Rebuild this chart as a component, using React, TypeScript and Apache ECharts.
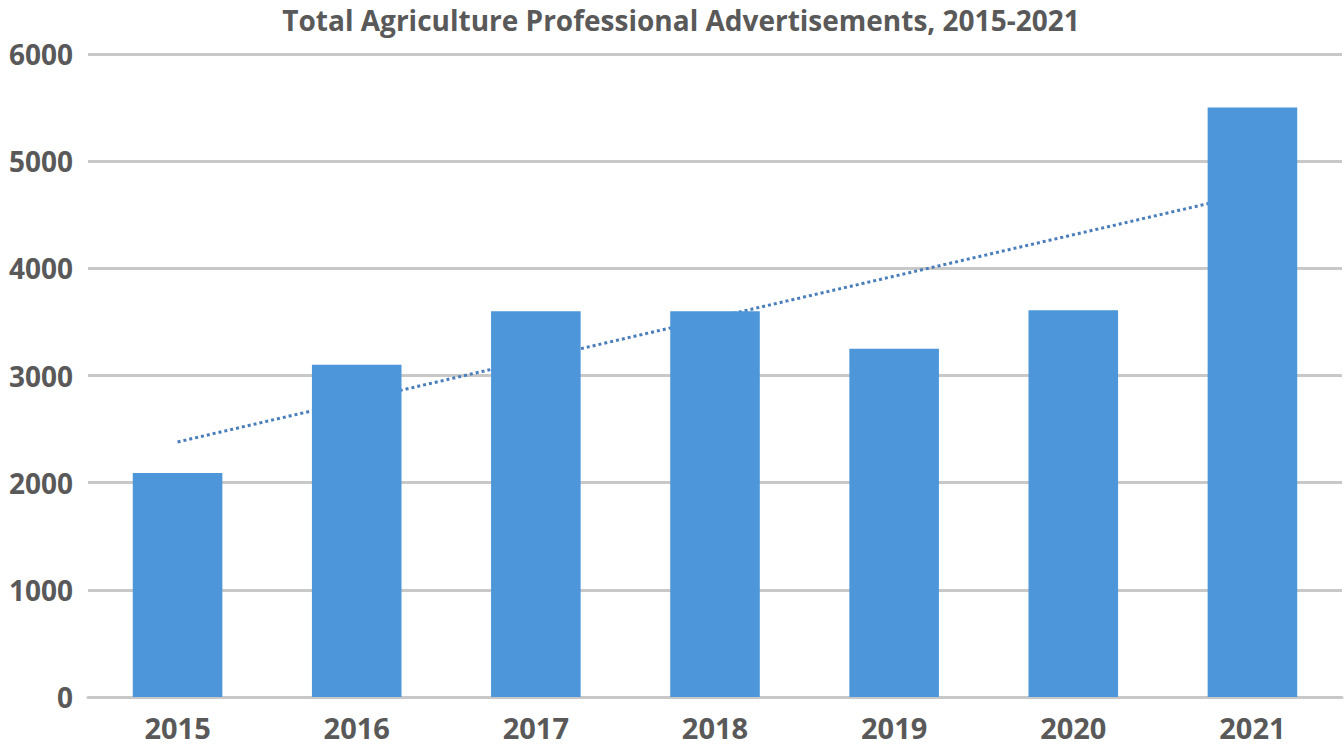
import React, { useEffect, useRef } from "react";
import * as echarts from "echarts";

const years = ["2015", "2016", "2017", "2018", "2019", "2020", "2021"];
const advertisements = [2090, 3100, 3600, 3600, 3250, 3610, 5500];
// linear trendline endpoints, drawn between first and last category
const trendline = [2380, null, null, null, null, null, 4700];
const yTicks = { min: 0, max: 6000, interval: 1000 };
const titleText = "Total Agriculture Professional Advertisements, 2015-2021";

export default function App() {
  const ref = useRef<HTMLDivElement>(null);
  useEffect(() => {
    const chart = echarts.init(ref.current!, null, { renderer: "svg" });
    const font = "'Open Sans', 'DejaVu Sans', sans-serif";
    chart.setOption({
      animation: false,
      backgroundColor: "#ffffff",
      title: {
        text: titleText,
        left: 676,
        textAlign: "center",
        top: 0,
        textStyle: { fontFamily: font, fontWeight: "bold", fontSize: 28, lineHeight: 30, color: "#595959" },
      },
      grid: { left: 88, right: 2, top: 54, bottom: 49, containLabel: false },
      xAxis: {
        type: "category",
        data: years,
        axisLine: { show: true, lineStyle: { color: "#c8c8c8", width: 3 } },
        axisTick: { show: false },
        axisLabel: { fontFamily: font, fontWeight: "bold", fontSize: 29, color: "#595959", margin: 16 },
      },
      yAxis: {
        type: "value",
        min: yTicks.min,
        max: yTicks.max,
        interval: yTicks.interval,
        axisLine: { show: false },
        axisTick: { show: false },
        splitLine: { lineStyle: { color: "#c8c8c8", width: 3 } },
        axisLabel: {
          fontFamily: font,
          fontWeight: "bold",
          fontSize: 28,
          color: "#595959",
          margin: 15,
          formatter: (v: number) => String(v),
        },
      },
      series: [
        {
          type: "line",
          data: trendline,
          connectNulls: true,
          symbol: "none",
          z: 1,
          lineStyle: { type: "dotted", width: 3, color: "#4a7ebb" },
        },
        {
          type: "bar",
          data: advertisements,
          barWidth: "50%",
          z: 3,
          itemStyle: { color: "#4d96d9" },
        },
      ],
    });
    return () => chart.dispose();
  }, []);
  return (
    <div
      ref={ref}
      style={{ position: "absolute", left: 0, top: 0, width: 1344, height: 746, background: "#fff" }}
    />
  );
}
